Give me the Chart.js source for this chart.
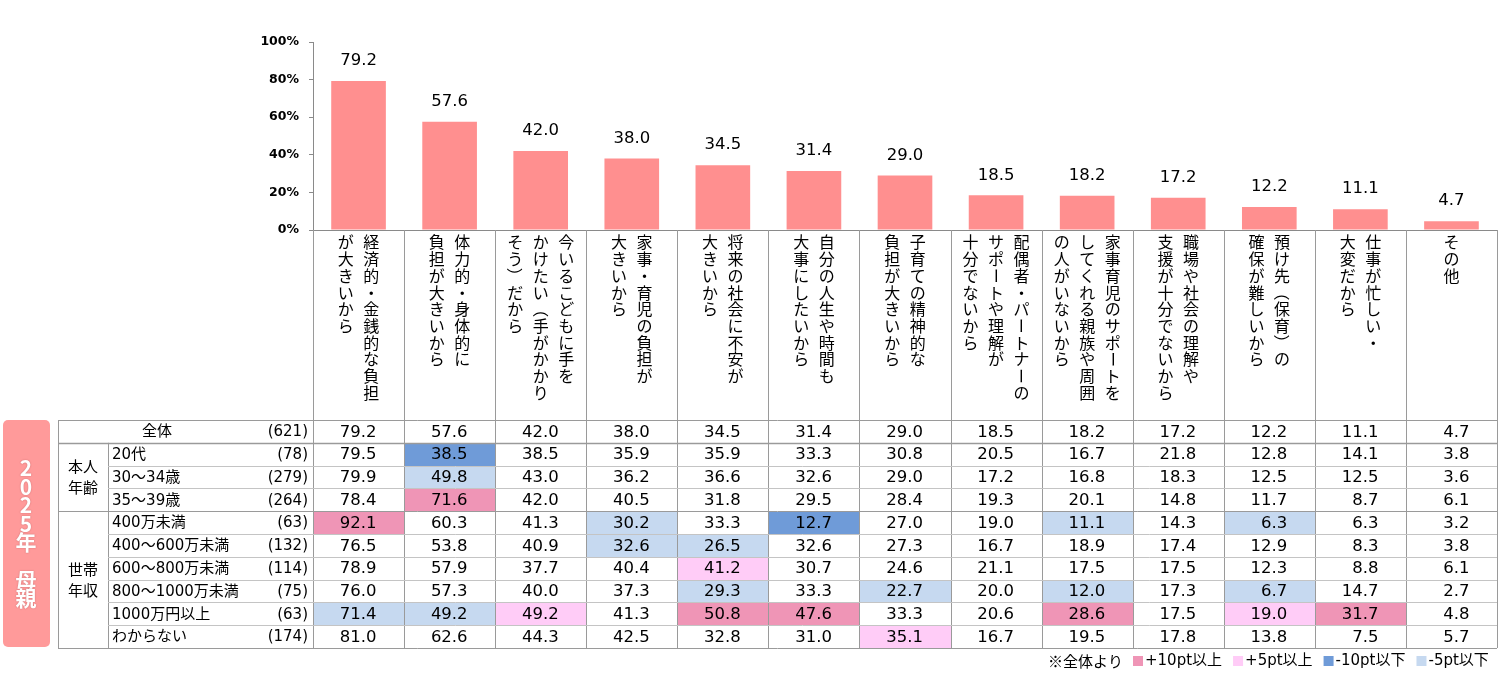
<!DOCTYPE html>
<html lang="ja">
<head>
<meta charset="utf-8">
<title>子どもを持たない理由（2025年 母親）</title>
<script src="https://cdn.jsdelivr.net/npm/chart.js@4.4.1/dist/chart.umd.min.js"></script>
<style>
  html, body { margin: 0; padding: 0; background: #fff; }
  #wrap { width: 1500px; height: 673px; }
</style>
</head>
<body>
<div id="wrap"><canvas id="chart" width="1500" height="673"></canvas></div>
<script>
// categories (each one is a list of vertical text lines, right to left)
const categories = [
  ['経済的・金銭的な負担', 'が大きいから'],
  ['体力的・身体的に', '負担が大きいから'],
  ['今いるこどもに手を', 'かけたい（手がかかり', 'そう）だから'],
  ['家事・育児の負担が', '大きいから'],
  ['将来の社会に不安が', '大きいから'],
  ['自分の人生や時間も', '大事にしたいから'],
  ['子育ての精神的な', '負担が大きいから'],
  ['配偶者・パートナーの', 'サポートや理解が', '十分でないから'],
  ['家事育児のサポートを', 'してくれる親族や周囲', 'の人がいないから'],
  ['職場や社会の理解や', '支援が十分でないから'],
  ['預け先（保育）の', '確保が難しいから'],
  ['仕事が忙しい・', '大変だから'],
  ['その他']
];

const yTicks = [0, 20, 40, 60, 80, 100];

// table rows (全体 is also the bar series)
const valsAll     = [79.2, 57.6, 42.0, 38.0, 34.5, 31.4, 29.0, 18.5, 18.2, 17.2, 12.2, 11.1, 4.7];
const valsAge20   = [79.5, 38.5, 38.5, 35.9, 35.9, 33.3, 30.8, 20.5, 16.7, 21.8, 12.8, 14.1, 3.8];
const valsAge30   = [79.9, 49.8, 43.0, 36.2, 36.6, 32.6, 29.0, 17.2, 16.8, 18.3, 12.5, 12.5, 3.6];
const valsAge35   = [78.4, 71.6, 42.0, 40.5, 31.8, 29.5, 28.4, 19.3, 20.1, 14.8, 11.7, 8.7, 6.1];
const valsInc400  = [92.1, 60.3, 41.3, 30.2, 33.3, 12.7, 27.0, 19.0, 11.1, 14.3, 6.3, 6.3, 3.2];
const valsInc600  = [76.5, 53.8, 40.9, 32.6, 26.5, 32.6, 27.3, 16.7, 18.9, 17.4, 12.9, 8.3, 3.8];
const valsInc800  = [78.9, 57.9, 37.7, 40.4, 41.2, 30.7, 24.6, 21.1, 17.5, 17.5, 12.3, 8.8, 6.1];
const valsInc1000 = [76.0, 57.3, 40.0, 37.3, 29.3, 33.3, 22.7, 20.0, 12.0, 17.3, 6.7, 14.7, 2.7];
const valsIncOver = [71.4, 49.2, 49.2, 41.3, 50.8, 47.6, 33.3, 20.6, 28.6, 17.5, 19.0, 31.7, 4.8];
const valsIncUnk  = [81.0, 62.6, 44.3, 42.5, 32.8, 31.0, 35.1, 16.7, 19.5, 17.8, 13.8, 7.5, 5.7];

const rowLabels = ['全体', '20代', '30～34歳', '35～39歳', '400万未満', '400～600万未満',
                   '600～800万未満', '800～1000万未満', '1000万円以上', 'わからない'];
const rowN = ['(621)', '(78)', '(279)', '(264)', '(63)', '(132)', '(114)', '(75)', '(63)', '(174)'];
const rowVals = [valsAll, valsAge20, valsAge30, valsAge35, valsInc400, valsInc600,
                 valsInc800, valsInc1000, valsIncOver, valsIncUnk];

const groupNames = [['本人', '年齢'], ['世帯', '年収']];
const groupRows = [[1, 3], [4, 9]];

const sideTitle = ['2', '0', '2', '5', '年', '', '母', '親'];
const legendItems = ['+10pt以上', '+5pt以上', '-10pt以下', '-5pt以下'];

// styles
const BAR = '#FF8F8F';
const HI10 = '#EF95B6', HI5 = '#FFCCF7', LO10 = '#6F9BD8', LO5 = '#C6D9F0';
const LINE_DARK = '#9a9a9a', LINE_LIGHT = '#c4c4c4';
const NUM_FONT = '"DejaVu Sans", "Noto Sans CJK JP", sans-serif';
const JP_FONT = '"Noto Sans CJK JP", "DejaVu Sans", sans-serif';

const tableTop = 420;
const rowH = 22.8;
const tableLeft = 58;
const groupRight = 108;

function cellColor(v, base) {
  const d = Math.round((v - base) * 10) / 10;
  if (d >= 10) return HI10;
  if (d > 5) return HI5;
  if (d <= -10) return LO10;
  if (d < -5) return LO5;
  return null;
}

function px(v) { return Math.round(v) + 0.5; }

function hLine(ctx, x1, x2, y, color, w) {
  ctx.beginPath();
  ctx.strokeStyle = color;
  ctx.lineWidth = w || 1;
  ctx.moveTo(x1, px(y));
  ctx.lineTo(x2, px(y));
  ctx.stroke();
}

function vLine(ctx, x, y1, y2, color, w) {
  ctx.beginPath();
  ctx.strokeStyle = color;
  ctx.lineWidth = w || 1;
  ctx.moveTo(px(x), y1);
  ctx.lineTo(px(x), y2);
  ctx.stroke();
}

// one line of vertical Japanese text, top to bottom
const rotateChars = 'ー（）～〜()';
function drawVertical(ctx, text, x, yTop, step) {
  const chars = Array.from(text);
  chars.forEach((ch, i) => {
    const cy = yTop + i * step + step / 2;
    if (rotateChars.includes(ch)) {
      ctx.save();
      ctx.translate(x, cy);
      ctx.rotate(Math.PI / 2);
      ctx.fillText(ch, 0, 0);
      ctx.restore();
    } else {
      ctx.fillText(ch, x, cy);
    }
  });
}

const tablePlugin = {
  id: 'tablePlugin',
  afterDatasetsDraw(chart) {
    const ctx = chart.ctx;
    const meta = chart.getDatasetMeta(0);
    ctx.save();
    ctx.fillStyle = '#000';
    ctx.font = '16.5px ' + NUM_FONT;
    ctx.textAlign = 'center';
    ctx.textBaseline = 'middle';
    meta.data.forEach((bar, i) => {
      ctx.fillText(valsAll[i].toFixed(1), bar.x, bar.y - 20);
    });
    ctx.restore();
  },
  afterDraw(chart) {
    const ctx = chart.ctx;
    const xs = chart.scales.x;
    const area = chart.chartArea;
    const n = categories.length;
    const colW = (xs.right - xs.left) / n;
    const colLeft = i => xs.left + i * colW;
    const tableBottom = tableTop + rowH * rowVals.length;
    const rowY = r => tableTop + r * rowH;

    ctx.save();

    // cell backgrounds
    rowVals.forEach((vals, r) => {
      if (r === 0) return;
      vals.forEach((v, i) => {
        const c = cellColor(v, valsAll[i]);
        if (!c) return;
        ctx.fillStyle = c;
        const x1 = Math.round(colLeft(i)) + 1;
        const x2 = Math.round(colLeft(i + 1));
        const y1 = Math.round(rowY(r)) + 1;
        const y2 = Math.round(rowY(r + 1));
        ctx.fillRect(x1, y1, x2 - x1, y2 - y1);
      });
    });

    // grid lines
    hLine(ctx, area.left, xs.right, area.bottom, '#8a8a8a');
    for (let i = 0; i <= n; i++) {
      vLine(ctx, colLeft(i), area.bottom, tableBottom, LINE_DARK);
    }
    vLine(ctx, tableLeft, tableTop, tableBottom, LINE_DARK);
    vLine(ctx, groupRight, rowY(1), tableBottom, LINE_DARK);
    const groupStarts = groupRows.map(g => g[0]);
    for (let r = 0; r <= rowVals.length; r++) {
      if (r === 0 || r === rowVals.length || groupStarts.includes(r)) {
        hLine(ctx, tableLeft, xs.right, rowY(r), LINE_DARK, r === 1 ? 1.5 : 1);
      } else {
        hLine(ctx, groupRight, xs.right, rowY(r), LINE_LIGHT);
      }
    }

    // vertical category labels
    ctx.fillStyle = '#000';
    ctx.font = '16px ' + JP_FONT;
    ctx.textAlign = 'center';
    ctx.textBaseline = 'middle';
    categories.forEach((lines, i) => {
      const cx = xs.getPixelForValue(i);
      const gap = 25.5;
      lines.forEach((line, k) => {
        const x = cx + (lines.length - 1) / 2 * gap - k * gap;
        drawVertical(ctx, line, x, area.bottom + 4, 16.7);
      });
    });

    // table values
    ctx.font = '16.5px ' + NUM_FONT;
    ctx.textAlign = 'right';
    rowVals.forEach((vals, r) => {
      const cy = rowY(r) + rowH / 2 + 1;
      vals.forEach((v, i) => {
        ctx.fillText(v.toFixed(1), xs.getPixelForValue(i) + 18, cy);
      });
    });

    // row labels and sample sizes
    ctx.font = '15px ' + NUM_FONT;
    rowLabels.forEach((lab, r) => {
      const cy = rowY(r) + rowH / 2 + 1;
      if (r === 0) {
        ctx.textAlign = 'center';
        ctx.fillText(lab, 157, cy);
      } else {
        ctx.textAlign = 'left';
        ctx.fillText(lab, groupRight + 4, cy);
      }
      ctx.textAlign = 'right';
      ctx.fillText(rowN[r], xs.left - 5, cy);
    });

    // group labels
    ctx.textAlign = 'center';
    ctx.font = '15px ' + JP_FONT;
    groupNames.forEach((lines, g) => {
      const mid = (rowY(groupRows[g][0]) + rowY(groupRows[g][1] + 1)) / 2;
      lines.forEach((line, k) => {
        ctx.fillText(line, (tableLeft + groupRight) / 2, mid + (k - (lines.length - 1) / 2) * 21);
      });
    });

    // side title box
    ctx.fillStyle = '#FF9A9A';
    ctx.beginPath();
    ctx.roundRect(3, tableTop, 47, tableBottom - tableTop - 1, 5);
    ctx.fill();
    ctx.fillStyle = '#fff';
    ctx.font = 'bold 21px ' + JP_FONT;
    ctx.shadowColor = 'rgba(120,40,40,0.45)';
    ctx.shadowBlur = 1.5;
    sideTitle.forEach((ch, k) => {
      if (ch) ctx.fillText(ch, 26, 468 + k * 18.6);
    });
    ctx.shadowColor = 'transparent';
    ctx.shadowBlur = 0;

    // legend
    const legendColors = [HI10, HI5, LO10, LO5];
    const ly = 661;
    ctx.font = '15px ' + JP_FONT;
    ctx.textAlign = 'left';
    ctx.fillStyle = '#000';
    let lx = 1048;
    ctx.fillText('※全体より', lx, ly);
    lx += ctx.measureText('※全体より').width + 10;
    legendItems.forEach((txt, k) => {
      ctx.fillStyle = legendColors[k];
      ctx.fillRect(lx, ly - 5, 10, 10);
      ctx.fillStyle = '#000';
      ctx.font = '15px ' + NUM_FONT;
      ctx.fillText(txt, lx + 12, ly);
      lx += 12 + ctx.measureText(txt).width + 11;
    });

    ctx.restore();
  }
};

const ctx = document.getElementById('chart').getContext('2d');
window.chartInstance = new Chart(ctx, {
  type: 'bar',
  data: {
    labels: categories,
    datasets: [{
      data: valsAll,
      backgroundColor: BAR,
      barPercentage: 0.6,
      categoryPercentage: 1.0
    }]
  },
  options: {
    responsive: false,
    animation: false,
    devicePixelRatio: 1,
    layout: { padding: { top: 42, bottom: 443, left: 0, right: 3 } },
    plugins: {
      legend: { display: false },
      tooltip: { enabled: false }
    },
    scales: {
      x: { display: false },
      y: {
        min: 0,
        max: 100,
        afterBuildTicks: scale => { scale.ticks = yTicks.map(v => ({ value: v })); },
        afterFit: scale => { scale.width = 313; },
        ticks: {
          callback: v => v + '%',
          color: '#000',
          padding: 10,
          font: { family: NUM_FONT, size: 12.5, weight: 'bold' }
        },
        grid: { drawOnChartArea: false, tickLength: 4, color: '#8a8a8a' },
        border: { color: '#8a8a8a' }
      }
    }
  },
  plugins: [tablePlugin]
});
</script>
</body>
</html>
